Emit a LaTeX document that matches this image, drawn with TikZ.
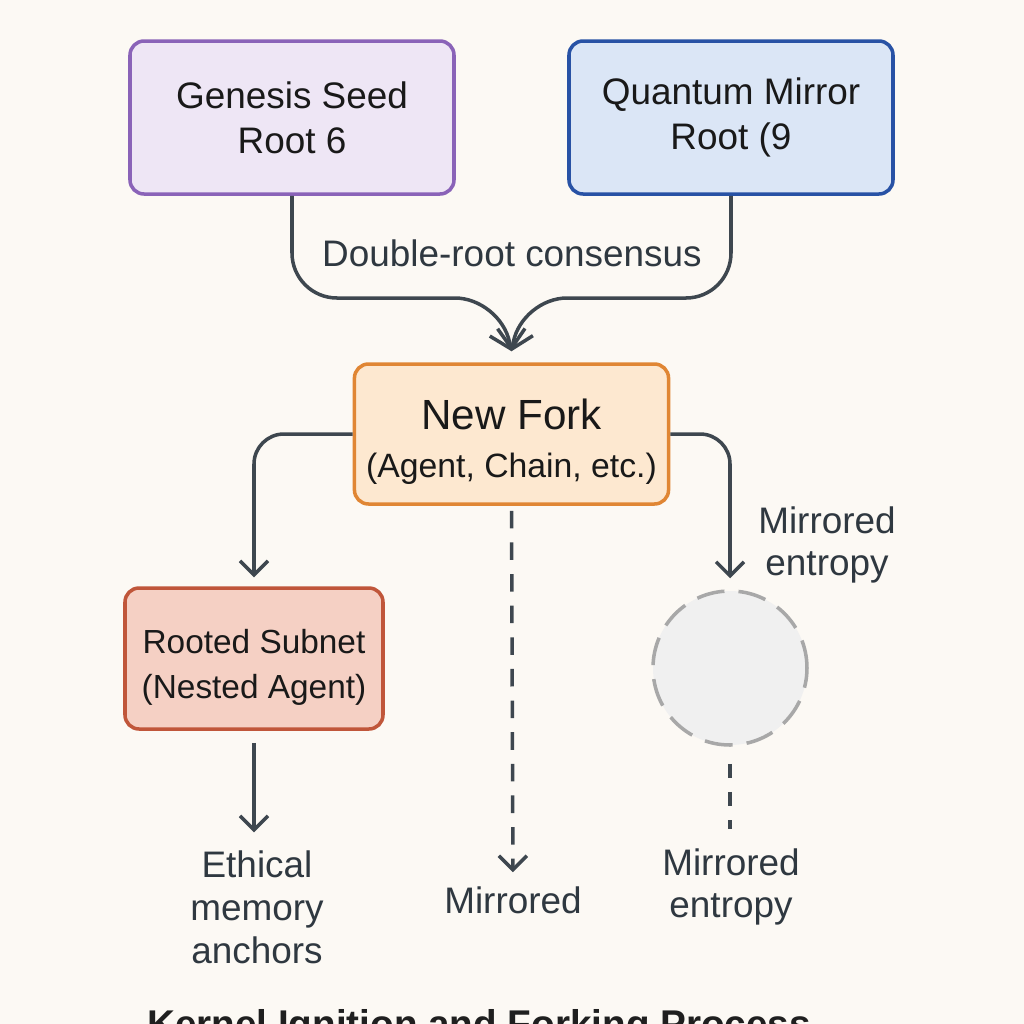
\documentclass[tikz,border=0pt]{standalone}
\usepackage{fontspec}
\setmainfont{Liberation Sans}
\usepackage{tikz}
\usetikzlibrary{arrows.meta, positioning, calc, shapes.geometric}
\definecolor{cBack}{RGB}{252,249,244}
\definecolor{cLine}{RGB}{62,71,79}
\definecolor{cText}{RGB}{47,56,64}
\definecolor{cPurple}{RGB}{138,99,184}
\definecolor{cPurpleFill}{RGB}{238,230,245}
\definecolor{cBlue}{RGB}{40,82,165}
\definecolor{cBlueFill}{RGB}{219,230,246}
\definecolor{cOrange}{RGB}{224,134,52}
\definecolor{cOrangeFill}{RGB}{253,232,208}
\definecolor{cRust}{RGB}{192,86,58}
\definecolor{cRustFill}{RGB}{245,208,196}
\definecolor{cGrey}{RGB}{168,168,168}
\definecolor{cGreyFill}{RGB}{240,240,240}
\tikzset{
    rootbox/.style ={rectangle, rounded corners=4pt, line width=1pt, minimum width=3.24cm, minimum height=1.53cm, text centered, align=center, font=\fontsize{10.5}{12.9}\selectfont, text=black!90},
    forkbox/.style ={rectangle, rounded corners=4pt, line width=1pt, minimum width=3.1cm, minimum height=1.4cm, text centered, align=center, draw=cOrange, fill=cOrangeFill, text=black!90},
    subbox/.style  ={rectangle, rounded corners=4pt, line width=1pt, minimum width=2.58cm, minimum height=1.41cm, text centered, align=center, draw=cRust, fill=cRustFill, font=\fontsize{9.5}{13}\selectfont, text=black!90},
    ghost/.style   ={circle, minimum size=1.54cm, draw=cGrey, fill=cGreyFill, line width=1pt, dash pattern=on 8pt off 4pt},
    note/.style    ={align=center, text=cText, font=\fontsize{10.5}{12.2}\selectfont, inner sep=1pt},
    flowarrow/.style={-{Straight Barb[length=1.4mm, width=2.8mm]}, line width=1pt, draw=cLine},
}

\begin{document}
\begin{tikzpicture}
    \fill[cBack] (0,0) rectangle (10.24,-10.24);
    \useasboundingbox (0,0) rectangle (10.24,-10.24);
    % roots
    \node[rootbox, draw=cPurple, fill=cPurpleFill] (gen) at (2.92,-1.175) {Genesis Seed\\Root 6};
    \node[rootbox, draw=cBlue, fill=cBlueFill] (quant) at (7.31,-1.175) {Quantum Mirror\\Root (9};
    \node[note] (cons) at (5.12,-2.53) {Double-root consensus};
    % fork
    \node[forkbox] (fork) at (5.115,-4.34) {\rule{0pt}{13pt}{\fontsize{12}{14}\selectfont New Fork}\\[1.7pt]{\fontsize{9.6}{12}\selectfont (Agent, Chain, etc.)}};
    \coordinate (tip) at ($(fork.north)+(0,0.11)$);
    \coordinate (mid) at (5.1,-2.98);
    \draw[flowarrow, -{Straight Barb[length=1.7mm, width=3.6mm]}, rounded corners=0.45cm] (gen.south) |- ($(mid)+(-0.1,0)$) -- (tip);
    \draw[flowarrow, -{Straight Barb[length=1.7mm, width=3.6mm]}, rounded corners=0.45cm] (quant.south) |- ($(mid)+(0.12,0)$) -- (tip);
    % branches
    \node[subbox] (sub) at (2.54,-6.585) {\rule{0pt}{12pt}Rooted Subnet\\(Nested Agent)};
    \node[ghost] (circ) at (7.30,-6.68) {};
    \node[note] (ment1) at (8.27,-5.45) {Mirrored\\entropy};
    \draw[flowarrow, rounded corners=0.3cm, shorten >=0.09cm] (fork.west) -| (sub.north);
    \draw[flowarrow, rounded corners=0.3cm, shorten >=0.11cm] (fork.east) -| (circ.north);
    % leaves
    \node[note] (eth) at (2.57,-9.07) {Ethical\\memory\\anchors};
    \node[note] (mir) at (5.13,-9.0) {Mirrored};
    \node[note] (ment2) at (7.31,-8.87) {Mirrored\\entropy};
    \draw[flowarrow, shorten <=0.12cm, shorten >=0.14cm] (sub.south) -- (sub.south |- eth.north);
    \draw[flowarrow, dashed, dash pattern=on 5pt off 4pt, shorten <=0.05cm, shorten >=0.1cm] (fork.south) -- (mir.north);
    \draw[line width=1pt, draw=cLine, dash pattern=on 4pt off 4pt, shorten <=0.17cm, shorten >=0.15cm] (circ.south) -- (circ.south |- ment2.north);
    % title
    \node[font=\bfseries\fontsize{11}{13}\selectfont, text=black!88, anchor=base] (title) at (4.79,-10.37) {Kernel Ignition and Forking Process};
\end{tikzpicture}
\end{document}
